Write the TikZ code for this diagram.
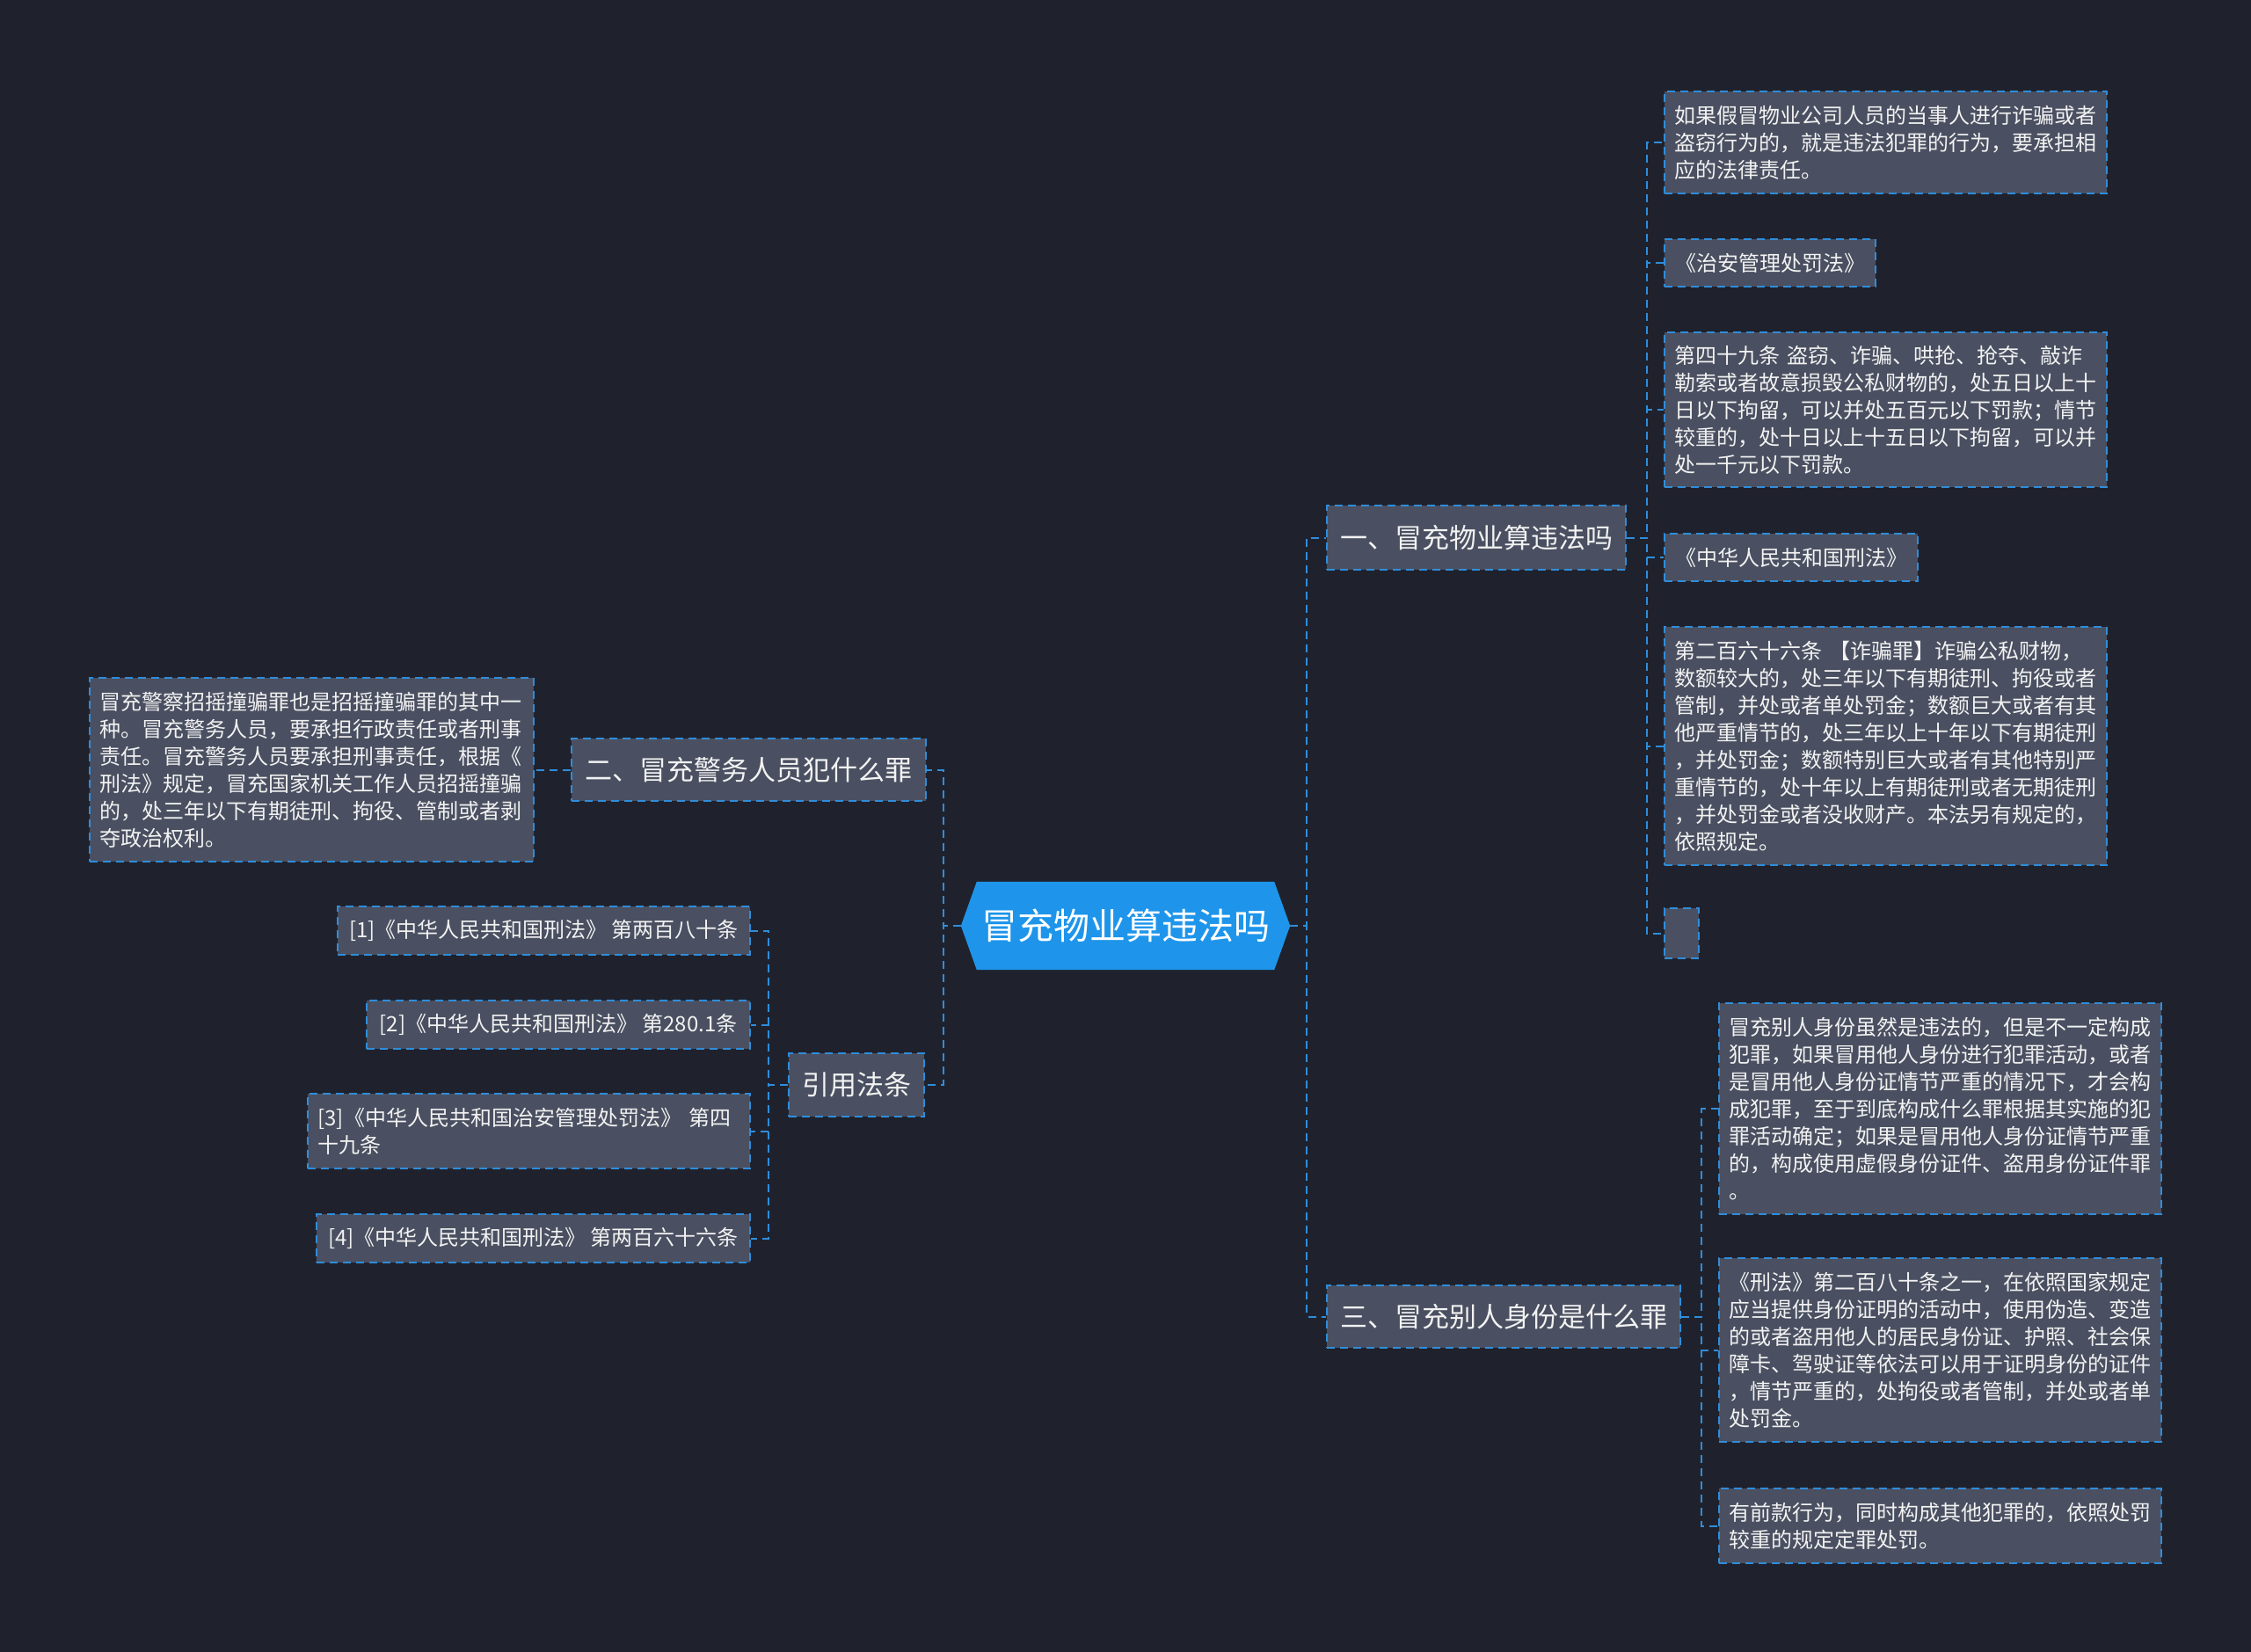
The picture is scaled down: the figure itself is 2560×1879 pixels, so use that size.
\documentclass[tikz,border=0pt]{standalone}
\usepackage{fontspec}
\newfontfamily\cjk{Noto Sans CJK SC}
\usetikzlibrary{backgrounds}
\definecolor{bgc}{HTML}{1F222D}
\definecolor{boxc}{HTML}{4A5061}
\definecolor{linec}{HTML}{2F8DDB}
\definecolor{rootc}{HTML}{1E95EA}
\definecolor{txtc}{HTML}{F2F2F2}
\tikzset{
  dashline/.style={draw=linec, line width=2pt, dash pattern=on 9pt off 6pt},
  leaf/.style={dashline, fill=boxc, text=txtc, font=\cjk\fontsize{24}{31}\selectfont,
    align=left, anchor=north west, inner xsep=11.5pt, inner ysep=0pt},
  mid/.style={dashline, fill=boxc, text=txtc, font=\cjk\fontsize{31}{36}\selectfont,
    anchor=north west, inner sep=0pt},
  rootnode/.style={text=white, font=\cjk\fontsize{41}{48}\selectfont, inner sep=0pt,
    minimum width=374pt, minimum height=100pt},
  conn/.style={dashline}
}
\begin{document}
\begin{tikzpicture}[x=1pt,y=-1pt]
\useasboundingbox (0,0) rectangle (2560,1879);

% root
\node[rootnode] (root) at (1280,1053) {冒充物业算违法吗};

% level 1
\node[mid, minimum width=340pt, minimum height=73pt] (n1) at (1508,574) {一、冒充物业算违法吗};
\node[mid, minimum width=403pt, minimum height=71pt] (n2) at (649,839) {二、冒充警务人员犯什么罪};
\node[mid, minimum width=402pt, minimum height=71pt] (n3) at (1508,1461) {三、冒充别人身份是什么罪};
\node[mid, minimum width=154pt, minimum height=72pt] (n4) at (896,1197) {引用法条};

% children of n1
\node[leaf, text width=480pt, minimum height=116pt] (a1) at (1892,103) {如果假冒物业公司人员的当事人进行诈骗或者\\盗窃行为的，就是违法犯罪的行为，要承担相\\应的法律责任。};
\node[leaf, minimum width=240pt, minimum height=54pt, align=center] (a2) at (1892,271) {《治安管理处罚法》};
\node[leaf, text width=480pt, minimum height=176pt] (a3) at (1892,377) {第四十九条 盗窃、诈骗、哄抢、抢夺、敲诈\\勒索或者故意损毁公私财物的，处五日以上十\\日以下拘留，可以并处五百元以下罚款；情节\\较重的，处十日以上十五日以下拘留，可以并\\处一千元以下罚款。};
\node[leaf, minimum width=288pt, minimum height=54pt, align=center] (a4) at (1892,606) {《中华人民共和国刑法》};
\node[leaf, text width=480pt, minimum height=271pt] (a5) at (1892,712) {第二百六十六条 【诈骗罪】诈骗公私财物，\\数额较大的，处三年以下有期徒刑、拘役或者\\管制，并处或者单处罚金；数额巨大或者有其\\他严重情节的，处三年以上十年以下有期徒刑\\，并处罚金；数额特别巨大或者有其他特别严\\重情节的，处十年以上有期徒刑或者无期徒刑\\，并处罚金或者没收财产。本法另有规定的，\\依照规定。};
\node[leaf, inner sep=0pt, minimum width=39pt, minimum height=57pt] (a6) at (1892,1032) {};

% child of n2
\node[leaf, text width=482pt, minimum height=209pt] (l1) at (101,770) {冒充警察招摇撞骗罪也是招摇撞骗罪的其中一\\种。冒充警务人员，要承担行政责任或者刑事\\责任。冒充警务人员要承担刑事责任，根据《\\刑法》规定，冒充国家机关工作人员招摇撞骗\\的，处三年以下有期徒刑、拘役、管制或者剥\\夺政治权利。};

% children of n4
\node[leaf, minimum width=469pt, minimum height=55pt, align=center] (r1) at (383,1030) {[1]《中华人民共和国刑法》 第两百八十条};
\node[leaf, minimum width=436pt, minimum height=55pt, align=center] (r2) at (416,1137) {[2]《中华人民共和国刑法》 第280.1条};
\node[leaf, text width=480pt, minimum height=85pt] (r3) at (349,1243) {[3]《中华人民共和国治安管理处罚法》 第四\\十九条};
\node[leaf, minimum width=493pt, minimum height=55pt, align=center] (r4) at (359,1380) {[4]《中华人民共和国刑法》 第两百六十六条};

% children of n3
\node[leaf, text width=480pt, minimum height=240pt] (c1) at (1954,1140) {冒充别人身份虽然是违法的，但是不一定构成\\犯罪，如果冒用他人身份进行犯罪活动，或者\\是冒用他人身份证情节严重的情况下，才会构\\成犯罪，至于到底构成什么罪根据其实施的犯\\罪活动确定；如果是冒用他人身份证情节严重\\的，构成使用虚假身份证件、盗用身份证件罪\\。};
\node[leaf, text width=480pt, minimum height=209pt] (c2) at (1954,1430) {《刑法》第二百八十条之一，在依照国家规定\\应当提供身份证明的活动中，使用伪造、变造\\的或者盗用他人的居民身份证、护照、社会保\\障卡、驾驶证等依法可以用于证明身份的证件\\，情节严重的，处拘役或者管制，并处或者单\\处罚金。};
\node[leaf, text width=480pt, minimum height=85pt] (c3) at (1954,1692) {有前款行为，同时构成其他犯罪的，依照处罚\\较重的规定定罪处罚。};

% background and root shape
\begin{scope}[on background layer]
  \fill[bgc] (0,0) rectangle (2560,1879);
  \fill[rootc] (root.west) -- ([xshift=18pt]root.north west) -- ([xshift=-18pt]root.north east)
    -- (root.east) -- ([xshift=-18pt]root.south east) -- ([xshift=18pt]root.south west) -- cycle;
\end{scope}

% connectors
\foreach \c in {n1,n3} \draw[conn] (root.east) -- ++(19,0) |- (\c.west);
\foreach \c in {n2,n4} \draw[conn] (root.west) -- ++(-20,0) |- (\c.east);
\foreach \c in {a1,a2,a3,a4,a5,a6} \draw[conn] (n1.east) -- ++(23,0) |- (\c.west);
\foreach \c in {c1,c2,c3} \draw[conn] (n3.east) -- ++(23,0) |- (\c.west);
\foreach \c in {r1,r2,r3,r4} \draw[conn] (n4.west) -- ++(-22,0) |- (\c.east);
\draw[conn] (n2.west) -- ++(-21,0) |- (l1.east);
\end{tikzpicture}
\end{document}
